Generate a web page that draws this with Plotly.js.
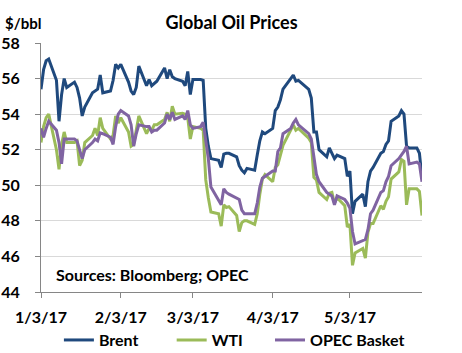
<!DOCTYPE html>
<html>
<head>
<meta charset="utf-8">
<script src="https://cdn.plot.ly/plotly-3.0.1.min.js"></script>
<style>html,body{margin:0;padding:0;background:#fff;}#chart{width:462px;height:353px;}</style>
</head>
<body>
<div id="chart"></div>
<script>
var dates = [
'2017-01-03','2017-01-04','2017-01-05','2017-01-06',
'2017-01-09','2017-01-10','2017-01-11','2017-01-12','2017-01-13',
'2017-01-16','2017-01-17','2017-01-18','2017-01-19','2017-01-20',
'2017-01-23','2017-01-24','2017-01-25','2017-01-26','2017-01-27',
'2017-01-30','2017-01-31','2017-02-01','2017-02-02','2017-02-03',
'2017-02-06','2017-02-07','2017-02-08','2017-02-09','2017-02-10',
'2017-02-13','2017-02-14','2017-02-15','2017-02-16','2017-02-17',
'2017-02-20','2017-02-21','2017-02-22','2017-02-23','2017-02-24',
'2017-02-27','2017-02-28','2017-03-01','2017-03-02','2017-03-03',
'2017-03-06','2017-03-07','2017-03-08','2017-03-09','2017-03-10',
'2017-03-13','2017-03-14','2017-03-15','2017-03-16','2017-03-17',
'2017-03-20','2017-03-21','2017-03-22','2017-03-23','2017-03-24',
'2017-03-27','2017-03-28','2017-03-29','2017-03-30','2017-03-31',
'2017-04-03','2017-04-04','2017-04-05','2017-04-06','2017-04-07',
'2017-04-10','2017-04-11','2017-04-12','2017-04-13',
'2017-04-17','2017-04-18','2017-04-19','2017-04-20','2017-04-21',
'2017-04-24','2017-04-25','2017-04-26','2017-04-27','2017-04-28',
'2017-05-01','2017-05-02','2017-05-03','2017-05-04','2017-05-05',
'2017-05-08','2017-05-09','2017-05-10','2017-05-11','2017-05-12',
'2017-05-15','2017-05-16','2017-05-17','2017-05-18','2017-05-19',
'2017-05-22','2017-05-23','2017-05-24','2017-05-25','2017-05-26',
'2017-05-29','2017-05-30','2017-05-31'];

var brent = [
55.4, 56.5, 57.0, 57.1,
55.9, 53.6, 55.1, 56.0, 55.5,
55.8, 55.5, 54.9, 53.9, 54.4,
55.2, 55.3, 55.4, 56.2, 55.2,
55.3, 55.9, 56.8, 56.6, 56.8,
55.8, 55.3, 55.1, 55.5, 56.7,
55.6, 55.95, 55.6, 55.7, 55.85,
56.6, 56.0, 56.5, 56.1, 56.0,
55.85, 55.6, 56.4, 55.1, 55.95,
55.95, 55.9, 53.2, 52.2, 51.5,
51.4, 51.0, 51.75, 51.8, 51.8,
51.6, 51.1, 50.85, 50.7, 50.95,
50.85, 51.7, 52.5, 53.0, 52.9,
53.2, 54.2, 54.4, 54.8, 55.4,
56.0, 56.2, 55.85, 55.9,
55.4, 54.9, 53.0, 53.0, 52.0,
51.6, 52.1, 51.8, 51.5, 51.7,
51.5, 50.5, 50.8, 48.4, 49.1,
49.5, 48.8, 50.2, 50.8, 51.0,
51.8, 51.9, 52.3, 52.5, 53.6,
53.9, 54.2, 54.0, 52.2, 52.1,
52.1, 51.8, 50.4];

var wti = [
52.4, 53.3, 53.8, 54.0,
52.0, 50.9, 52.3, 53.0, 52.4,
52.4, 52.5, 51.1, 51.4, 52.4,
52.8, 53.2, 52.8, 53.8, 53.2,
52.6, 52.8, 53.9, 53.5, 53.8,
53.0, 52.2, 52.3, 53.0, 53.9,
52.9, 53.2, 53.1, 53.4, 53.4,
53.7, 54.1, 53.6, 54.45, 54.0,
54.05, 54.0, 53.8, 52.6, 53.3,
53.2, 53.1, 50.3, 49.3, 48.5,
48.4, 47.7, 48.9, 48.75, 48.8,
48.3, 47.4, 47.9, 48.0, 48.0,
47.8, 48.4, 49.5, 50.35, 50.6,
50.2, 51.0, 51.15, 51.7, 52.25,
53.1, 53.4, 53.1, 53.2,
52.65, 52.4, 50.45, 50.3, 49.6,
49.2, 49.55, 49.6, 49.0, 49.3,
48.85, 47.65, 47.8, 45.5, 46.2,
46.45, 45.9, 47.35, 47.85, 47.85,
48.85, 48.65, 49.1, 49.35, 50.35,
50.75, 51.45, 51.35, 48.9, 49.8,
49.8, 49.65, 48.3];

var opec = [
53.2, 52.7, 53.2, 53.6,
53.1, 52.4, 51.2, 52.6, 52.6,
52.6, 52.5, 52.0, 51.5, 52.0,
52.4, 52.6, 52.5, 52.95, 52.9,
52.7, 52.3, 53.3, 54.0, 54.2,
53.9, 53.4, 52.2, 52.9, 53.4,
53.3, 53.3, 53.0, 53.1, 53.1,
53.5, 54.0, 53.7, 54.1, 53.7,
53.9, 53.7, 54.2, 53.4, 53.2,
53.3, 53.55, 52.6, 51.5, 49.9,
49.2, 48.9, 49.8, 49.6, 49.5,
49.3, 49.2, 48.6, 48.4, 48.4,
48.4, 49.0, 49.9, 50.4, 50.5,
50.8, 50.8, 51.9, 52.1, 52.9,
53.2, 53.5, 53.7, 53.4,
52.9, 52.6, 51.6, 50.6, 50.2,
49.6, 49.5, 49.4, 48.9, 49.4,
49.2, 49.0, 48.7, 47.4, 46.7,
46.9, 46.95, 47.5, 48.4, 48.6,
49.6, 49.7, 50.2, 50.5, 51.1,
51.5, 51.7, 51.9, 52.2, 51.2,
51.3, 51.2, 50.2];

var seriesNames = ['Brent', 'WTI', 'OPEC Basket'];
var tickDates = ['2017-01-03','2017-02-03','2017-03-03','2017-04-03','2017-05-03'];
var tickLabels = ['1/3/17','2/3/17','3/3/17','4/3/17','5/3/17'];
var yTicks = [44, 46, 48, 50, 52, 54, 56, 58];

var FONT = 'Lato, "Open Sans", sans-serif';
var colors = ['#1F497D', '#9BBB59', '#8064A2'];
var legends = ['legend', 'legend2', 'legend3'];
var values = [brent, wti, opec];

var traces = values.map(function (v, i) {
  return {
    x: dates, y: v, type: 'scatter', mode: 'lines',
    name: seriesNames[i],
    legend: legends[i],
    line: {color: colors[i], width: 3}
  };
});

function legendAt(x) {
  return {
    orientation: 'h', x: x, xanchor: 'left', y: -0.193, yanchor: 'middle',
    font: {family: FONT, size: 16, color: '#000', weight: 'bold'},
    bgcolor: 'rgba(0,0,0,0)', borderwidth: 0
  };
}

var layout = {
  width: 462, height: 353,
  margin: {l: 41, r: 40, t: 43, b: 61, autoexpand: false},
  paper_bgcolor: '#fff', plot_bgcolor: '#fff',
  font: {family: FONT, size: 16, color: '#000', weight: 'bold'},
  title: {
    text: 'Global Oil Prices',
    font: {family: FONT, size: 18, color: '#000', weight: 'bold'},
    x: 0.5, xanchor: 'center', xref: 'paper',
    y: 0.935, yanchor: 'middle', yref: 'container'
  },
  xaxis: {
    type: 'date',
    range: ['2017-01-03', '2017-05-31'],
    tickmode: 'array', tickvals: tickDates, ticktext: tickLabels,
    showgrid: false, zeroline: false,
    showline: true, linecolor: '#868686', linewidth: 1,
    ticks: 'outside', ticklen: 5, tickcolor: '#868686',
    ticklabelstandoff: 6,
    tickfont: {family: FONT, size: 16, color: '#000', weight: 'bold'}
  },
  yaxis: {
    range: [44, 58],
    tickmode: 'array', tickvals: yTicks,
    showgrid: true, gridcolor: '#D9D9D9', gridwidth: 1,
    zeroline: false,
    showline: true, linecolor: '#868686', linewidth: 1,
    ticks: 'outside', ticklen: 5, tickcolor: '#868686',
    ticklabelstandoff: 12,
    tickfont: {family: FONT, size: 16, color: '#000', weight: 'bold'}
  },
  legend: legendAt(0.047),
  legend2: legendAt(0.343),
  legend3: legendAt(0.601),
  showlegend: true,
  annotations: [
    {text: '$/bbl', xref: 'paper', yref: 'paper', x: -0.1005, xanchor: 'left',
     y: 1.08, yanchor: 'middle', showarrow: false,
     font: {family: FONT, size: 15, color: '#000', weight: 'bold'}},
    {text: 'Sources: Bloomberg; OPEC', xref: 'paper', yref: 'paper', x: 0.034, xanchor: 'left',
     y: 0.072, yanchor: 'middle', showarrow: false,
     font: {family: FONT, size: 16, color: '#000', weight: 'bold'}}
  ]
};

Plotly.newPlot('chart', traces, layout, {displayModeBar: false, staticPlot: true});
</script>
</body>
</html>
